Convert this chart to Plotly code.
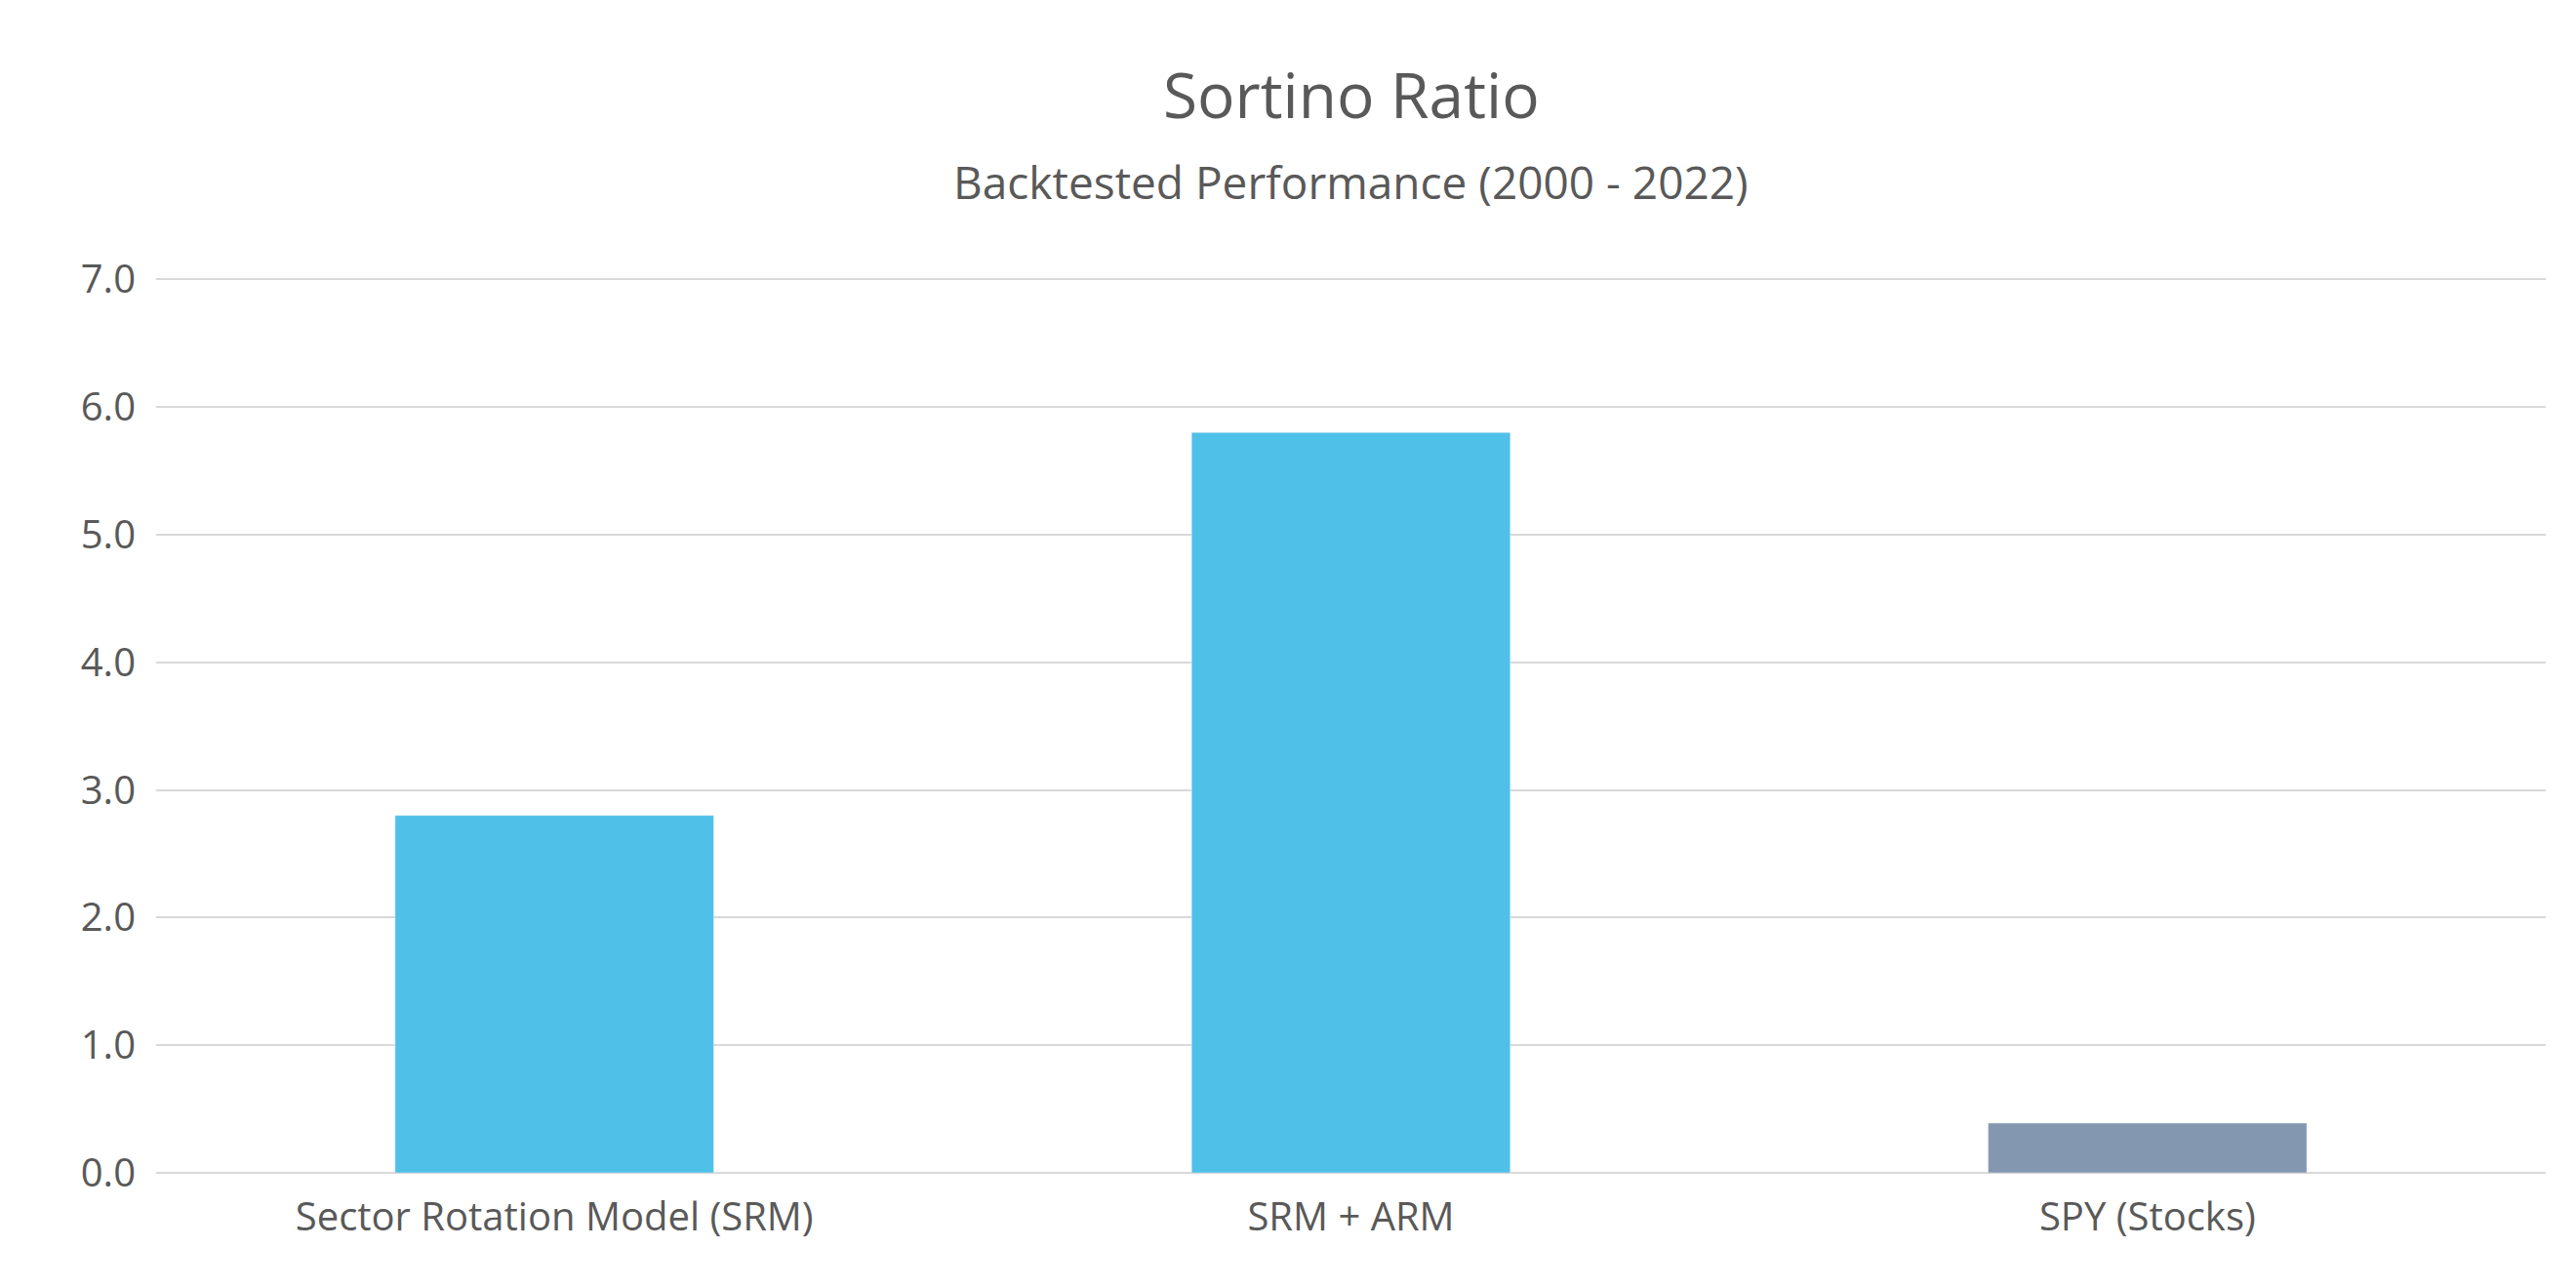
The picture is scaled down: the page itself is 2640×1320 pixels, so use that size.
import plotly.graph_objects as go

categories = ["Sector Rotation Model (SRM)", "SRM + ARM", "SPY (Stocks)"]
values = [2.8, 5.8, 0.39]
colors = ["#4FC0E8", "#4FC0E8", "#8497B0"]
tick_vals = [0, 1, 2, 3, 4, 5, 6, 7]

fig = go.Figure(go.Bar(x=categories, y=values, marker_color=colors, width=0.4))
fig.update_layout(
    width=2640, height=1320,
    paper_bgcolor="white", plot_bgcolor="white",
    font=dict(family="Open Sans", color="#595959"),
    margin=dict(l=152, r=39, t=277, b=126),
    showlegend=False,
    annotations=[
        dict(text="Sortino Ratio", x=0.5, y=88, xref="paper", yref="paper", showarrow=False,
             font=dict(size=64)),
        dict(text="Backtested Performance (2000 - 2022)", x=0.5, y=0, xref="paper", yref="paper",
             showarrow=False, font=dict(size=46)),
    ],
)
# position annotations in pixel terms via yshift
plot_h = 1320 - 277 - 126
fig.layout.annotations[0].update(y=1, yanchor="middle", yshift=277 - 88)
fig.layout.annotations[1].update(y=1, yanchor="middle", yshift=277 - 178)
fig.update_yaxes(range=[0, 7.01], tickvals=tick_vals, tickformat=".1f", showgrid=True,
                 gridcolor="#D9D9D9", gridwidth=2, zeroline=True, zerolinecolor="#D9D9D9",
                 zerolinewidth=2, tickfont=dict(size=40), ticklabelstandoff=20)
fig.update_xaxes(tickfont=dict(size=40), showline=False, ticklabelstandoff=18)
fig.write_html("out.html")
